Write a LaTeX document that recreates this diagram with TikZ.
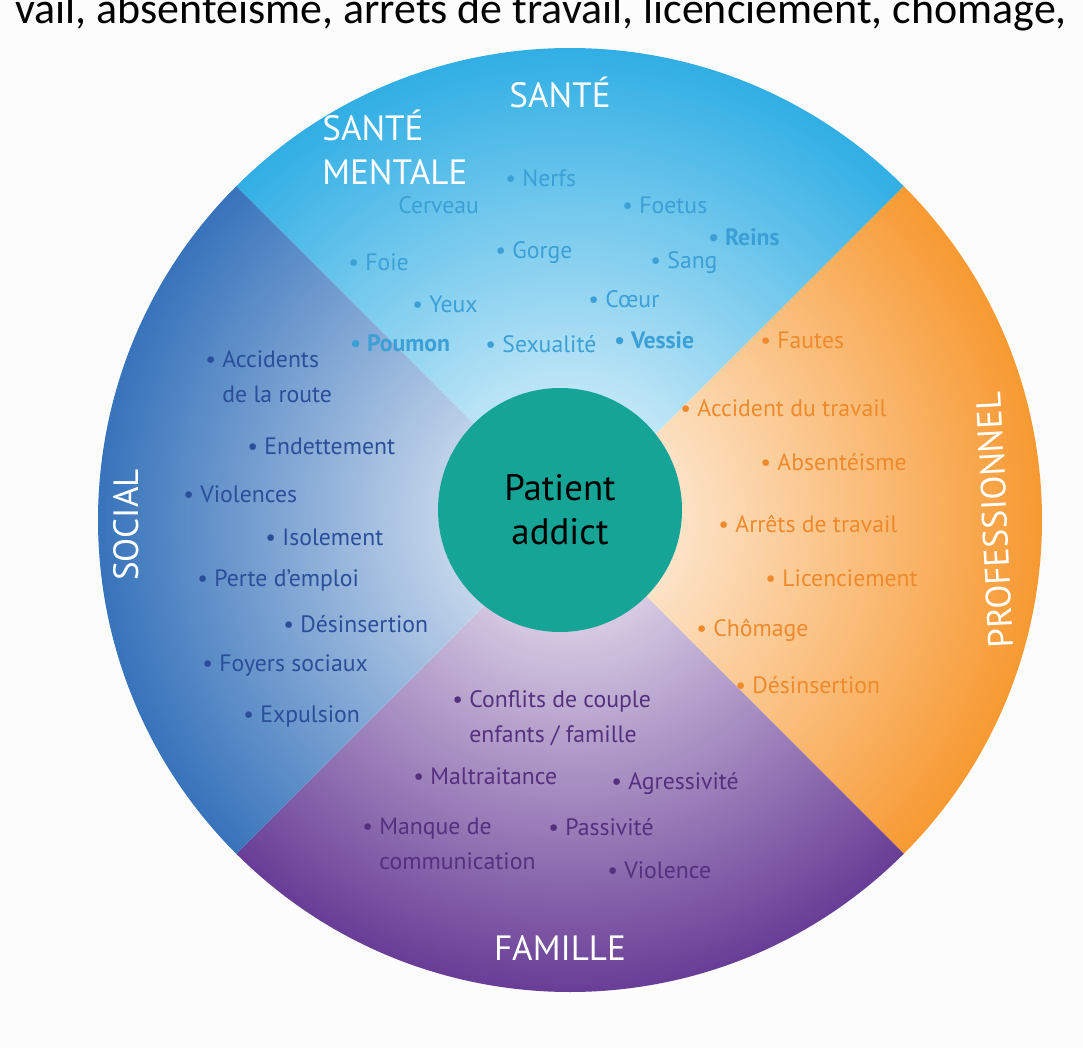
\documentclass[tikz,border=0pt]{standalone}
\usepackage{fontspec}
\setmainfont{PT Sans}
\newfontfamily\headfont{Carlito}
\usetikzlibrary{fadings}

\definecolor{santecol}{HTML}{1CA7E2}
\definecolor{procol}{HTML}{F7901E}
\definecolor{famcol}{HTML}{5A2A8C}
\definecolor{soccol}{HTML}{2466B5}
\definecolor{santetxt}{HTML}{3C9FD6}
\definecolor{protxt}{HTML}{EE8A2C}
\definecolor{soctxt}{HTML}{2A4E9A}
\definecolor{famtxt}{HTML}{55307F}
\definecolor{patcol}{HTML}{16A497}

\tikzfading[name=glow, inner color=transparent!0, outer color=transparent!100]

\tikzset{
  item/.style={anchor=west, inner sep=0pt, font=\fontsize{13.5}{15}\selectfont, align=left},
  head/.style={text=white, inner sep=0pt, font=\fontsize{20}{22}\selectfont},
}

\begin{document}
\begin{tikzpicture}[x=0.02cm, y=-0.02cm]
\useasboundingbox (0,0) rectangle (1083,1048);
\fill[fill=white!98!gray] (0,0) rectangle (1083,1048);

\node[anchor=base, inner sep=0pt, font=\headfont\fontsize{25}{26}\selectfont] (titre) at (541,24)
  {vail, absentéisme, arrêts de travail, licenciement, chômage,};

% sectors of the wheel
\coordinate (c) at (570,520);
\fill[santecol] (c) -- ++(-135:472) arc (-135:-45:472) -- cycle;
\fill[procol] (c) -- ++(-45:472) arc (-45:45:472) -- cycle;
\fill[famcol] (c) -- ++(45:472) arc (45:135:472) -- cycle;
\fill[soccol] (c) -- ++(135:472) arc (135:225:472) -- cycle;
\fill[white, path fading=glow, fill opacity=0.95] (c) circle (520);

\node[circle, fill=patcol, minimum size=244*0.02cm, align=center,
  font=\fontsize{21}{25}\selectfont] (patient) at (560,510) {Patient\\addict};

% headings
\node[head] (sante) at (560,92) {SANTÉ};
\node[head, anchor=west, align=left, font=\fontsize{20}{25}\selectfont] (mentale) at (322,147) {SANTÉ\\MENTALE};
\node[head, rotate=90] (social) at (126,525) {SOCIAL};
\node[head, rotate=93] (prof) at (995,520) {PROFESSIONNEL};
\node[head] (famille) at (560,948) {FAMILLE};

% sante
\foreach \x/\y/\t/\n in {505/178/Nerfs/nerfs, 622/205/Foetus/foetus, 348/262/Foie/foie,
  495/253/Gorge/gorge, 650/263/Sang/sang, 412/304/Yeux/yeux, 588/299/Cœur/coeur,
  485/344/Sexualité/sexualite}
  \node[item, text=santetxt] (\n) at (\x,\y) {\textbullet\ \t};
\node[item, text=santetxt] (cerveau) at (398,205) {Cerveau};
\foreach \x/\y/\t/\n in {708/237/Reins/reins, 350/343/Poumon/poumon, 614/340/Vessie/vessie}
  \node[item, text=santetxt, font=\bfseries\fontsize{13.5}{15}\selectfont] (\n) at (\x,\y) {\textbullet\ \t};

% professionnel
\foreach \x/\y/\t/\n in {760/340/Fautes/fautes, 680/408/Accident du travail/accident,
  760/462/Absentéisme/absenteisme, 718/524/Arrêts de travail/arrets,
  765/578/Licenciement/licenciement, 696/630/Chômage/chomage, 735/685/Désinsertion/desinsertionp}
  \node[item, text=protxt] (\n) at (\x,\y) {\textbullet\ \t};

% social
\foreach \x/\y/\t/\n in {205/377/{Accidents\\\phantom{\textbullet\ }de la route}/routes,
  247/446/Endettement/endettement, 183/494/Violences/violences, 265/537/Isolement/isolement,
  197/580/Perte d'emploi/perte, 283/624/Désinsertion/desinsertions,
  202/666/Foyers sociaux/foyers, 243/716/Expulsion/expulsion}
  \node[item, text=soctxt, font=\fontsize{13.5}{20}\selectfont] (\n) at (\x,\y) {\textbullet\ \t};

% famille
\foreach \x/\y/\t/\n in {452/718/{Conflits de couple\\\phantom{\textbullet\ }enfants / famille}/conflits,
  413/776/Maltraitance/maltraitance, 611/783/Agressivité/agressivite,
  362/844/{Manque de\\\phantom{\textbullet\ }communication}/manque,
  548/827/Passivité/passivite, 607/870/Violence/violence}
  \node[item, text=famtxt, font=\fontsize{13.5}{20}\selectfont] (\n) at (\x,\y) {\textbullet\ \t};
\end{tikzpicture}
\end{document}
